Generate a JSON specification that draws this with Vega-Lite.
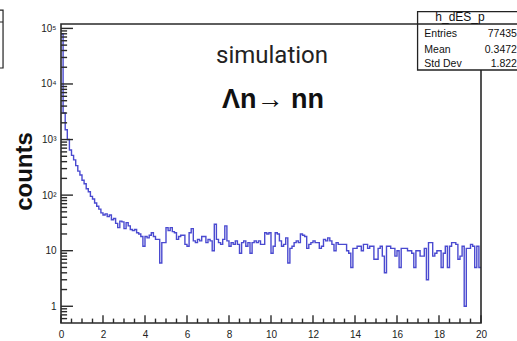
{
  "$schema": "https://vega.github.io/schema/vega-lite/v6.json",
  "width": 420,
  "height": 299,
  "autosize": "none",
  "padding": {"left": 61, "top": 24, "right": 36, "bottom": 18},
  "background": "white",
  "config": {"view": {"stroke": null}, "font": "Liberation Sans"},
  "datasets": {
    "hist": [
      {"x":0.0,"n":80000},{"x":0.1,"n":3000},{"x":0.2,"n":1500},{"x":0.3,"n":1000},{"x":0.4,"n":650},{"x":0.5,"n":520},{"x":0.6,"n":430},{"x":0.7,"n":340},{"x":0.8,"n":270},{"x":0.9,"n":230},
      {"x":1.0,"n":185},{"x":1.1,"n":160},{"x":1.2,"n":130},{"x":1.3,"n":115},{"x":1.4,"n":95},{"x":1.5,"n":85},{"x":1.6,"n":72},{"x":1.7,"n":63},{"x":1.8,"n":56},{"x":1.9,"n":48},
      {"x":2.0,"n":44},{"x":2.1,"n":46},{"x":2.2,"n":41},{"x":2.3,"n":44},{"x":2.4,"n":36},{"x":2.5,"n":38},{"x":2.6,"n":31},{"x":2.7,"n":26},{"x":2.8,"n":34},{"x":2.9,"n":33},
      {"x":3.0,"n":25},{"x":3.1,"n":32},{"x":3.2,"n":28},{"x":3.3,"n":24},{"x":3.4,"n":23},{"x":3.5,"n":24},{"x":3.6,"n":21},{"x":3.7,"n":20},{"x":3.8,"n":18},{"x":3.9,"n":12},
      {"x":4.0,"n":18},{"x":4.1,"n":17},{"x":4.2,"n":19},{"x":4.3,"n":21},{"x":4.4,"n":18},{"x":4.5,"n":16},{"x":4.6,"n":16},{"x":4.7,"n":6},{"x":4.8,"n":14},{"x":4.9,"n":14},
      {"x":5.0,"n":26},{"x":5.1,"n":23},{"x":5.2,"n":26},{"x":5.3,"n":22},{"x":5.4,"n":21},{"x":5.5,"n":16},{"x":5.6,"n":18},{"x":5.7,"n":19},{"x":5.8,"n":19},{"x":5.9,"n":13},
      {"x":6.0,"n":12},{"x":6.1,"n":21},{"x":6.2,"n":25},{"x":6.3,"n":15},{"x":6.4,"n":14},{"x":6.5,"n":16},{"x":6.6,"n":15},{"x":6.7,"n":18},{"x":6.8,"n":18},{"x":6.9,"n":14},
      {"x":7.0,"n":16},{"x":7.1,"n":15},{"x":7.2,"n":10},{"x":7.3,"n":30},{"x":7.4,"n":16},{"x":7.5,"n":14},{"x":7.6,"n":13},{"x":7.7,"n":16},{"x":7.8,"n":28},{"x":7.9,"n":15},
      {"x":8.0,"n":12},{"x":8.1,"n":14},{"x":8.2,"n":13},{"x":8.3,"n":15},{"x":8.4,"n":13},{"x":8.5,"n":9},{"x":8.6,"n":14},{"x":8.7,"n":15},{"x":8.8,"n":12},{"x":8.9,"n":14},
      {"x":9.0,"n":9},{"x":9.1,"n":14},{"x":9.2,"n":15},{"x":9.3,"n":14},{"x":9.4,"n":15},{"x":9.5,"n":13},{"x":9.6,"n":13},{"x":9.7,"n":21},{"x":9.8,"n":20},{"x":9.9,"n":21},
      {"x":10.0,"n":9},{"x":10.1,"n":12},{"x":10.2,"n":21},{"x":10.3,"n":20},{"x":10.4,"n":15},{"x":10.5,"n":12},{"x":10.6,"n":13},{"x":10.7,"n":17},{"x":10.8,"n":6},{"x":10.9,"n":11},
      {"x":11.0,"n":12},{"x":11.1,"n":14},{"x":11.2,"n":15},{"x":11.3,"n":14},{"x":11.4,"n":20},{"x":11.5,"n":19},{"x":11.6,"n":18},{"x":11.7,"n":11},{"x":11.8,"n":13},{"x":11.9,"n":14},
      {"x":12.0,"n":15},{"x":12.1,"n":14},{"x":12.2,"n":14},{"x":12.3,"n":11},{"x":12.4,"n":12},{"x":12.5,"n":16},{"x":12.6,"n":15},{"x":12.7,"n":17},{"x":12.8,"n":15},{"x":12.9,"n":13},
      {"x":13.0,"n":10},{"x":13.1,"n":14},{"x":13.2,"n":13},{"x":13.3,"n":13},{"x":13.4,"n":13},{"x":13.5,"n":13},{"x":13.6,"n":10},{"x":13.7,"n":9},{"x":13.8,"n":5},{"x":13.9,"n":11},
      {"x":14.0,"n":11},{"x":14.1,"n":12},{"x":14.2,"n":12},{"x":14.3,"n":10},{"x":14.4,"n":13},{"x":14.5,"n":13},{"x":14.6,"n":11},{"x":14.7,"n":12},{"x":14.8,"n":12},{"x":14.9,"n":7},
      {"x":15.0,"n":7},{"x":15.1,"n":11},{"x":15.2,"n":12},{"x":15.3,"n":8},{"x":15.4,"n":4},{"x":15.5,"n":12},{"x":15.6,"n":12},{"x":15.7,"n":11},{"x":15.8,"n":11},{"x":15.9,"n":8},
      {"x":16.0,"n":10},{"x":16.1,"n":5},{"x":16.2,"n":11},{"x":16.3,"n":11},{"x":16.4,"n":11},{"x":16.5,"n":10},{"x":16.6,"n":10},{"x":16.7,"n":9},{"x":16.8,"n":5},{"x":16.9,"n":10},
      {"x":17.0,"n":10},{"x":17.1,"n":8},{"x":17.2,"n":8},{"x":17.3,"n":11},{"x":17.4,"n":3},{"x":17.5,"n":14},{"x":17.6,"n":14},{"x":17.7,"n":8},{"x":17.8,"n":9},{"x":17.9,"n":10},
      {"x":18.0,"n":10},{"x":18.1,"n":5},{"x":18.2,"n":9},{"x":18.3,"n":12},{"x":18.4,"n":5},{"x":18.5,"n":12},{"x":18.6,"n":14},{"x":18.7,"n":14},{"x":18.8,"n":13},{"x":18.9,"n":7},
      {"x":19.0,"n":8},{"x":19.1,"n":12},{"x":19.2,"n":1},{"x":19.3,"n":11},{"x":19.4,"n":11},{"x":19.5,"n":13},{"x":19.6,"n":12},{"x":19.7,"n":5},{"x":19.8,"n":12},{"x":19.9,"n":5},
      {"x":20.0,"n":5}
    ],
    "ymaj": [{"v":1},{"v":10},{"v":100},{"v":1000},{"v":10000},{"v":100000}],
    "ymin": [
      {"v":0.6},{"v":0.7},{"v":0.8},{"v":0.9},
      {"v":2},{"v":3},{"v":4},{"v":5},{"v":6},{"v":7},{"v":8},{"v":9},
      {"v":20},{"v":30},{"v":40},{"v":50},{"v":60},{"v":70},{"v":80},{"v":90},
      {"v":200},{"v":300},{"v":400},{"v":500},{"v":600},{"v":700},{"v":800},{"v":900},
      {"v":2000},{"v":3000},{"v":4000},{"v":5000},{"v":6000},{"v":7000},{"v":8000},{"v":9000},
      {"v":20000},{"v":30000},{"v":40000},{"v":50000},{"v":60000},{"v":70000},{"v":80000},{"v":90000}
    ],
    "xmaj": [{"v":0},{"v":2},{"v":4},{"v":6},{"v":8},{"v":10},{"v":12},{"v":14},{"v":16},{"v":18},{"v":20}],
    "xmin": [
      {"v":0.5},{"v":1},{"v":1.5},{"v":2.5},{"v":3},{"v":3.5},{"v":4.5},{"v":5},{"v":5.5},{"v":6.5},{"v":7},{"v":7.5},
      {"v":8.5},{"v":9},{"v":9.5},{"v":10.5},{"v":11},{"v":11.5},{"v":12.5},{"v":13},{"v":13.5},{"v":14.5},{"v":15},{"v":15.5},
      {"v":16.5},{"v":17},{"v":17.5},{"v":18.5},{"v":19},{"v":19.5}
    ]
  },
  "layer": [
    {
      "data": {"name": "hist"},
      "mark": {"type": "line", "interpolate": "step-after", "color": "#4a4ad0", "strokeWidth": 1.4},
      "encoding": {
        "x": {"field": "x", "type": "quantitative",
              "scale": {"type": "linear", "domain": [0, 20], "nice": false, "zero": false},
              "axis": {"values": [0,2,4,6,8,10,12,14,16,18,20], "title": null, "grid": false, "ticks": false, "tickSize": 0, "domain": false,
                       "labelFontSize": 10, "labelFont": "Liberation Sans", "labelColor": "#222", "labelPadding": 6, "labelFlush": false}},
        "y": {"field": "n", "type": "quantitative",
              "scale": {"type": "log", "domain": [0.5, 120000], "nice": false},
              "axis": {"values": [1,10,100,1000,10000,100000], "title": "counts", "grid": false, "ticks": false, "tickSize": 0, "domain": false,
                       "labelExpr": "datum.value == 1 ? '1' : datum.value == 10 ? '10' : datum.value == 100 ? '10²' : datum.value == 1000 ? '10³' : datum.value == 10000 ? '10⁴' : '10⁵'",
                       "labelFontSize": 10, "labelFont": "Liberation Sans", "labelColor": "#222", "labelPadding": 5, "labelFlush": false,
                       "titleFont": "Liberation Sans", "titleFontSize": 24, "titleFontWeight": "bold", "titleColor": "#111",
                       "titleX": -30, "titleY": 147, "titleBaseline": "alphabetic", "titleAlign": "center", "titleAngle": -90}}
      }
    },
    {
      "data": {"values": [{}]},
      "mark": {"type": "rect", "fill": "transparent", "stroke": "#2a2a2a", "strokeWidth": 1.6},
      "encoding": {
        "x": {"datum": 0, "type": "quantitative"},
        "x2": {"datum": 20},
        "y": {"datum": 0.5, "type": "quantitative"},
        "y2": {"datum": 120000}
      }
    },
    {
      "data": {"name": "ymaj"},
      "mark": {"type": "rule", "color": "#2a2a2a", "strokeWidth": 1.4},
      "encoding": {
        "y": {"field": "v", "type": "quantitative"},
        "x": {"datum": 0, "type": "quantitative"},
        "x2": {"datum": 0.57}
      }
    },
    {
      "data": {"name": "ymin"},
      "mark": {"type": "rule", "color": "#2a2a2a", "strokeWidth": 1.4},
      "encoding": {
        "y": {"field": "v", "type": "quantitative"},
        "x": {"datum": 0, "type": "quantitative"},
        "x2": {"datum": 0.29}
      }
    },
    {
      "data": {"name": "xmaj"},
      "mark": {"type": "rule", "color": "#2a2a2a", "strokeWidth": 1.4},
      "encoding": {
        "x": {"field": "v", "type": "quantitative"},
        "y": {"datum": 0.5, "type": "quantitative"},
        "y2": {"datum": 0.69}
      }
    },
    {
      "data": {"name": "xmin"},
      "mark": {"type": "rule", "color": "#2a2a2a", "strokeWidth": 1.4},
      "encoding": {
        "x": {"field": "v", "type": "quantitative"},
        "y": {"datum": 0.5, "type": "quantitative"},
        "y2": {"datum": 0.6}
      }
    },
    {
      "data": {"values": [{}]},
      "mark": {"type": "text", "align": "center", "baseline": "alphabetic", "font": "Roboto", "fontSize": 24, "color": "#222"},
      "encoding": {
        "x": {"datum": 10.05, "type": "quantitative"},
        "y": {"datum": 23530, "type": "quantitative"},
        "text": {"value": "simulation"}
      }
    },
    {
      "data": {"values": [{}]},
      "mark": {"type": "text", "align": "center", "baseline": "alphabetic", "font": "Liberation Sans", "fontSize": 27, "fontWeight": "bold", "color": "#111"},
      "encoding": {
        "x": {"datum": 10.1, "type": "quantitative"},
        "y": {"datum": 3690, "type": "quantitative"},
        "text": {"value": "Λn→ nn"}
      }
    },
    {
      "data": {"values": [{}]},
      "mark": {"type": "rect", "fill": "white", "stroke": "#222", "strokeWidth": 1.3, "clip": false},
      "encoding": {
        "x": {"datum": 16.98, "type": "quantitative"},
        "x2": {"datum": 22.5},
        "y": {"datum": 17830, "type": "quantitative"},
        "y2": {"datum": 199800}
      }
    },
    {
      "data": {"values": [{}]},
      "mark": {"type": "rule", "color": "#222", "strokeWidth": 1.3},
      "encoding": {
        "x": {"datum": 16.98, "type": "quantitative"},
        "x2": {"datum": 22.5},
        "y": {"datum": 120000, "type": "quantitative"}
      }
    },
    {
      "data": {"values": [{}]},
      "mark": {"type": "rect", "fill": "transparent", "stroke": "#222", "strokeWidth": 1.2},
      "encoding": {
        "x": {"datum": -5, "type": "quantitative"},
        "x2": {"datum": -2.76},
        "y": {"datum": 19380, "type": "quantitative"},
        "y2": {"datum": 214000}
      }
    },
    {
      "data": {"values": [{}]},
      "mark": {"type": "rule", "color": "#222", "strokeWidth": 1.2},
      "encoding": {
        "x": {"datum": -5, "type": "quantitative"},
        "x2": {"datum": -2.76},
        "y": {"datum": 130300, "type": "quantitative"}
      }
    },
    {
      "data": {"values": [{}]},
      "mark": {"type": "text", "align": "center", "baseline": "alphabetic", "font": "Liberation Sans", "fontSize": 12, "color": "#111"},
      "encoding": {
        "x": {"datum": 19.0, "type": "quantitative"},
        "y": {"datum": 138700, "type": "quantitative"},
        "text": {"value": "h_dES_p"}
      }
    },
    {
      "data": {"values": [{}]},
      "mark": {"type": "text", "align": "left", "baseline": "alphabetic", "font": "Liberation Sans", "fontSize": 10.5, "color": "#111"},
      "encoding": {
        "x": {"datum": 17.3, "type": "quantitative"},
        "y": {"datum": 71470, "type": "quantitative"},
        "text": {"value": "Entries"}
      }
    },
    {
      "data": {"values": [{}]},
      "mark": {"type": "text", "align": "left", "baseline": "alphabetic", "font": "Liberation Sans", "fontSize": 10.5, "color": "#111"},
      "encoding": {
        "x": {"datum": 17.3, "type": "quantitative"},
        "y": {"datum": 36090, "type": "quantitative"},
        "text": {"value": "Mean"}
      }
    },
    {
      "data": {"values": [{}]},
      "mark": {"type": "text", "align": "left", "baseline": "alphabetic", "font": "Liberation Sans", "fontSize": 10.5, "color": "#111"},
      "encoding": {
        "x": {"datum": 17.3, "type": "quantitative"},
        "y": {"datum": 20620, "type": "quantitative"},
        "text": {"value": "Std Dev"}
      }
    },
    {
      "data": {"values": [{}]},
      "mark": {"type": "text", "align": "right", "baseline": "alphabetic", "font": "Liberation Sans", "fontSize": 10.5, "color": "#111"},
      "encoding": {
        "x": {"datum": 21.71, "type": "quantitative"},
        "y": {"datum": 71470, "type": "quantitative"},
        "text": {"value": "77435"}
      }
    },
    {
      "data": {"values": [{}]},
      "mark": {"type": "text", "align": "right", "baseline": "alphabetic", "font": "Liberation Sans", "fontSize": 10.5, "color": "#111"},
      "encoding": {
        "x": {"datum": 21.71, "type": "quantitative"},
        "y": {"datum": 36090, "type": "quantitative"},
        "text": {"value": "0.3472"}
      }
    },
    {
      "data": {"values": [{}]},
      "mark": {"type": "text", "align": "right", "baseline": "alphabetic", "font": "Liberation Sans", "fontSize": 10.5, "color": "#111"},
      "encoding": {
        "x": {"datum": 21.71, "type": "quantitative"},
        "y": {"datum": 20620, "type": "quantitative"},
        "text": {"value": "1.822"}
      }
    }
  ]
}
